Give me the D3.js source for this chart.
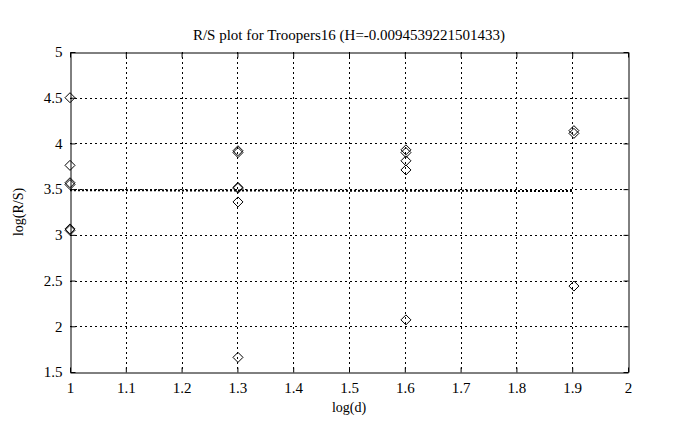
<!DOCTYPE html>
<html><head><meta charset="utf-8">
<script src="https://cdn.jsdelivr.net/npm/d3@7"></script>
<style>
body{margin:0;background:#fff;}
text{font-family:"Liberation Serif","Times New Roman",serif;fill:#000;}
</style></head>
<body>
<svg id="c" width="678" height="430"></svg>
<script>
const titleText = "R/S plot for Troopers16 (H=-0.0094539221501433)";
const xLabel = "log(d)";
const yLabel = "log(R/S)";
const xTicks = [1,1.1,1.2,1.3,1.4,1.5,1.6,1.7,1.8,1.9,2];
const yTicks = [1.5,2,2.5,3,3.5,4,4.5,5];
const pointsX = [1,1,1,1,1,1,
  1.30103,1.30103,1.30103,1.30103,1.30103,1.30103,
  1.60206,1.60206,1.60206,1.60206,1.60206,
  1.90309,1.90309,1.90309];
const pointsY = [4.50,3.76,3.57,3.55,3.065,3.05,
  3.92,3.90,3.52,3.51,3.36,1.66,
  3.93,3.90,3.81,3.71,2.07,
  4.14,4.11,2.44];
const fitX = [1,1.90309];
const fitY = [3.488,3.480];

const svg = d3.select("#c");
const L=70,R=628,T=52,B=372;
const x = d3.scaleLinear().domain([1,2]).range([L,R]);
const y = d3.scaleLinear().domain([1.5,5]).range([B,T]);

// grid
const g = svg.append("g");
g.selectAll("line.gx").data(xTicks.slice(1,-1)).enter().append("line")
  .attr("x1",d=>Math.round(x(d))+0.5).attr("x2",d=>Math.round(x(d))+0.5)
  .attr("y1",T).attr("y2",B).attr("stroke","#000").attr("stroke-width",1)
  .attr("stroke-dasharray","2,3");
g.selectAll("line.gy").data(yTicks.slice(1,-1)).enter().append("line")
  .attr("y1",d=>Math.round(y(d))+0.5).attr("y2",d=>Math.round(y(d))+0.5)
  .attr("x1",L).attr("x2",R).attr("stroke","#000").attr("stroke-width",1)
  .attr("stroke-dasharray","2,3");

// axes with inward ticks
const fmt = d=>String(d);
svg.append("g").attr("transform",`translate(0,${B+0.5})`)
  .call(d3.axisBottom(x).tickValues(xTicks).tickFormat(fmt).tickSizeInner(-5).tickSizeOuter(0).tickPadding(10));
svg.append("g").attr("transform",`translate(0,${T+0.5})`)
  .call(d3.axisTop(x).tickValues(xTicks).tickFormat("").tickSizeInner(-5).tickSizeOuter(0));
svg.append("g").attr("transform",`translate(${L+0.5},0)`)
  .call(d3.axisLeft(y).tickValues(yTicks).tickFormat(fmt).tickSizeInner(-5).tickSizeOuter(0).tickPadding(8));
svg.append("g").attr("transform",`translate(${R+0.5},0)`)
  .call(d3.axisRight(y).tickValues(yTicks).tickFormat("").tickSizeInner(-5).tickSizeOuter(0));
svg.selectAll(".domain").attr("stroke","#000").attr("stroke-width",1);
svg.selectAll(".tick line").attr("stroke","#000");
svg.selectAll(".tick text").style("font-size","15px")
  .style("font-family","'Liberation Serif','Times New Roman',serif").attr("fill","#000");

// fit line
svg.append("path").datum(fitX.map((d,i)=>[d,fitY[i]]))
  .attr("d",d3.line().x(d=>x(d[0])).y(d=>y(d[1])))
  .attr("fill","none").attr("stroke","#000").attr("stroke-width",2)
  .attr("stroke-dasharray","2,2");

// diamonds
svg.selectAll("path.pt").data(pointsX.map((d,i)=>[d,pointsY[i]])).enter().append("path")
  .attr("d",d=>{const cx=x(d[0]),cy=y(d[1]),r=5;return `M${cx},${cy-r}L${cx+r},${cy}L${cx},${cy+r}L${cx-r},${cy}Z`;})
  .attr("fill","none").attr("stroke","#000").attr("stroke-width",1);

// labels
svg.append("text").attr("x",(L+R)/2).attr("y",40).attr("text-anchor","middle")
  .style("font-size","15px").text(titleText);
svg.append("text").attr("x",(L+R)/2).attr("y",412).attr("text-anchor","middle")
  .style("font-size","14px").text(xLabel);
svg.append("text").attr("transform",`translate(23,${(T+B)/2}) rotate(-90)`).attr("text-anchor","middle")
  .style("font-size","14px").text(yLabel);
</script>
</body></html>
